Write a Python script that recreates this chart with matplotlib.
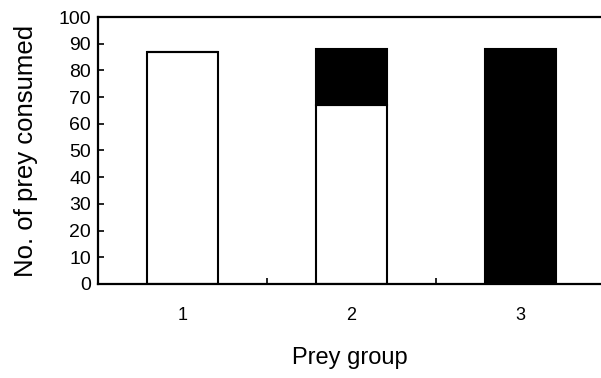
import matplotlib
matplotlib.use('Agg')
import matplotlib.pyplot as plt

plt.rcParams['font.family'] = ['Liberation Sans', 'DejaVu Sans']

groups = [1, 2, 3]
white_part = [87, 67, 0]
black_part = [0, 21, 88]

fig = plt.figure(figsize=(6.01, 3.78), dpi=100)
ax = fig.add_axes([0.163, 0.249, 0.837, 0.706])

w = 0.42
ax.bar(groups, white_part, width=w, color='white', edgecolor='black', linewidth=1.5)
ax.bar(groups, black_part, width=w, bottom=white_part, color='black', edgecolor='black', linewidth=1.5)

ax.set_xlim(0.5, 3.475)
ax.set_ylim(0, 100)
ax.set_yticks(range(0, 101, 10))
ax.set_xticks(groups)
ax.set_xticks([1.5, 2.5], minor=True)
ax.tick_params(axis='x', which='major', length=0, pad=17, labelsize=13)
ax.tick_params(axis='x', which='minor', direction='in', length=4, width=1.2)
ax.tick_params(axis='y', direction='in', length=4, width=1.2, labelsize=14, pad=5)

ax.spines['right'].set_visible(False)
for s in ['left', 'top', 'bottom']:
    ax.spines[s].set_linewidth(1.6)

ax.set_xlabel('Prey group', fontsize=17, labelpad=16)
ax.set_ylabel('No. of prey consumed', fontsize=18.5, labelpad=15)

fig.savefig('out.png', dpi=100)
